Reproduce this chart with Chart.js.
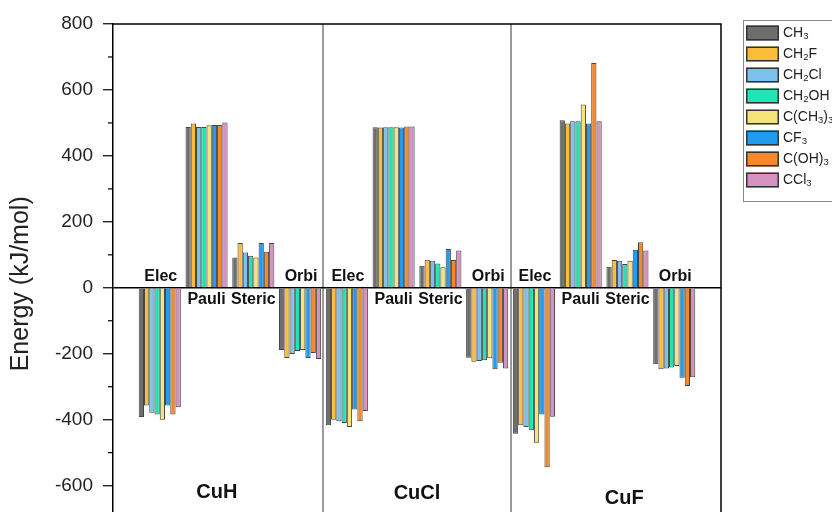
<!DOCTYPE html>
<html><head><meta charset="utf-8">
<script src="https://cdn.jsdelivr.net/npm/chart.js@4/dist/chart.umd.min.js"></script>
<style>html,body{margin:0;padding:0;overflow:hidden;background:#fff;width:832px;height:512px}
#wrap{position:relative;width:832px;height:540px}</style></head>
<body><div id="wrap"><canvas id="c" width="832" height="540"></canvas></div>
<script>
const systems = ['CuH', 'CuCl', 'CuF'];
const components = ['Elec', 'Pauli', 'Steric', 'Orbi'];
const seriesNames = ['CH₃', 'CH₂F', 'CH₂Cl', 'CH₂OH', 'C(CH₃)₃', 'CF₃', 'C(OH)₃', 'CCl₃'];
const seriesColors = ['#6e6e6e', '#fbbd3a', '#7cc2ec', '#1fe5b4', '#f4e47a', '#1f9cf0', '#f5882b', '#d591c0'];
const yTitle = 'Energy (kJ/mol)';
// order per array: CuH (Elec, Pauli, Steric, Orbi), CuCl (...), CuF (...)
const vCH3    = [-392, 488,  92, -189, -417, 487,  67, -212, -443, 508,  64, -232];
const vCH2F   = [-357, 498, 136, -213, -400, 486,  85, -224, -417, 498,  84, -247];
const vCH2Cl  = [-379, 488, 107, -201, -405, 487,  82, -222, -422, 505,  82, -245];
const vCH2OH  = [-384, 488,  97, -192, -410, 487,  74, -220, -432, 505,  72, -242];
const vCCH33  = [-400, 493,  92, -189, -422, 487,  62, -214, -470, 556,  82, -237];
const vCF3    = [-357, 494, 136, -213, -369, 486, 118, -247, -384, 498, 115, -273];
const vCOH3   = [-384, 494, 109, -198, -405, 489,  84, -227, -544, 682, 138, -298];
const vCCl3   = [-362, 501, 136, -216, -374, 489, 113, -245, -391, 505, 113, -271];
const seriesValues = [vCH3, vCH2F, vCH2Cl, vCH2OH, vCCH33, vCF3, vCOH3, vCCl3];
const yMin = -700, yMax = 800;

const FONT = "'Liberation Sans', Arial, sans-serif";

const datasets = seriesNames.map((name, s) => ({
  label: name,
  data: seriesValues[s].map((v, i) => ({ x: i + 1, y: v })),
  backgroundColor: seriesColors[s],
  borderColor: '#444',
  borderWidth: 1,
  categoryPercentage: 0.9,
  barPercentage: 1.0
}));

function drawSubText(ctx, text, x, y, size) {
  const subs = '₀₁₂₃₄₅₆₇₈₉';
  let cx = x;
  for (const ch of text) {
    const k = subs.indexOf(ch);
    if (k >= 0) {
      ctx.font = (size * 0.68) + 'px ' + FONT;
      ctx.fillText(String(k), cx, y + size * 0.25);
      cx += ctx.measureText(String(k)).width;
    } else {
      ctx.font = size + 'px ' + FONT;
      ctx.fillText(ch, cx, y);
      cx += ctx.measureText(ch).width;
    }
  }
}

const decor = {
  id: 'decor',
  afterDatasetsDraw(chart) {
    const { ctx, chartArea: a, scales: { x, y } } = chart;
    ctx.save();
    ctx.strokeStyle = '#000';
    ctx.lineWidth = 1.5;
    ctx.beginPath();
    ctx.moveTo(a.left, a.top); ctx.lineTo(a.right, a.top); ctx.lineTo(a.right, a.bottom);
    ctx.stroke();
    ctx.lineWidth = 1.2;
    y.ticks.forEach(t => {
      if (Math.abs(t.value) % 200 !== 0) {
        const py = y.getPixelForValue(t.value);
        ctx.beginPath(); ctx.moveTo(a.left - 5, py); ctx.lineTo(a.left, py); ctx.stroke();
      }
    });
    const y0 = y.getPixelForValue(0);
    ctx.fillStyle = '#111';
    ctx.font = 'bold 16px ' + FONT;
    ctx.textAlign = 'center';
    for (let i = 0; i < 12; i++) {
      const mean = seriesValues.reduce((s, arr) => s + arr[i], 0) / seriesValues.length;
      const px = x.getPixelForValue(i + 1);
      if (mean < 0) { ctx.textBaseline = 'bottom'; ctx.fillText(components[i % 4], px + 1, y0 - 3); }
      else { ctx.textBaseline = 'top'; ctx.fillText(components[i % 4], px, y0 + 4); }
    }
    ctx.font = 'bold 20px ' + FONT;
    ctx.textBaseline = 'middle';
    const sysX = [2.22, 6.5, 10.93];
    const sysY = [-620, -625, -640];
    systems.forEach((s, k) => ctx.fillText(s, x.getPixelForValue(sysX[k]), y.getPixelForValue(sysY[k])));
    ctx.save();
    ctx.translate(21, y.getPixelForValue(0) - 4);
    ctx.rotate(-Math.PI / 2);
    ctx.font = '25px ' + FONT;
    ctx.fillStyle = '#222';
    ctx.textAlign = 'center';
    ctx.textBaseline = 'middle';
    ctx.fillText(yTitle, 0, 0);
    ctx.restore();
    ctx.restore();
  },
  afterDraw(chart) {
    const { ctx } = chart;
    ctx.save();
    ctx.strokeStyle = '#8a8a8a';
    ctx.lineWidth = 1;
    ctx.strokeRect(743.5, 20.5, 120, 181);
    seriesNames.forEach((n, i) => {
      const cy = 33 + i * 21;
      ctx.fillStyle = seriesColors[i];
      ctx.fillRect(746, cy - 7.5, 33, 15);
      ctx.strokeStyle = '#333';
      ctx.lineWidth = 1.5;
      ctx.strokeRect(746.75, cy - 6.75, 31.5, 13.5);
      ctx.fillStyle = '#222';
      ctx.textAlign = 'left';
      ctx.textBaseline = 'middle';
      drawSubText(ctx, n, 783, cy, 14);
    });
    ctx.restore();
  }
};

new Chart(document.getElementById('c'), {
  type: 'bar',
  data: { datasets },
  options: {
    responsive: false,
    devicePixelRatio: 1,
    animation: false,
    layout: { padding: { left: 5, top: 24, right: 111, bottom: 3 } },
    plugins: { legend: { display: false }, tooltip: { enabled: false } },
    scales: {
      x: {
        type: 'linear', min: 0, max: 13, offset: false,
        afterBuildTicks: s => { s.ticks = [{ value: 4.5 }, { value: 8.5 }]; },
        afterFit: s => { s.height = 0; },
        ticks: { display: false },
        grid: { color: '#9a9a9a', lineWidth: 2, drawTicks: false, offset: false },
        border: { display: false }
      },
      y: {
        min: yMin, max: yMax,
        afterFit: s => { s.width = 108; },
        ticks: {
          stepSize: 100,
          callback: v => (Math.abs(v) % 200 === 0 ? v : ''),
          font: { size: 19, family: FONT }, color: '#222', padding: 10
        },
        grid: {
          color: c => (c.tick && c.tick.value === 0 ? '#000' : 'rgba(0,0,0,0)'),
          lineWidth: 1.5,
          tickColor: c => (c.tick && Math.abs(c.tick.value) % 200 === 0 ? '#000' : 'rgba(0,0,0,0)'),
          tickLength: 10, tickWidth: 1.2
        },
        border: { color: '#000', width: 1.5 },
        title: { display: false }
      }
    }
  },
  plugins: [decor]
});
</script></body></html>
